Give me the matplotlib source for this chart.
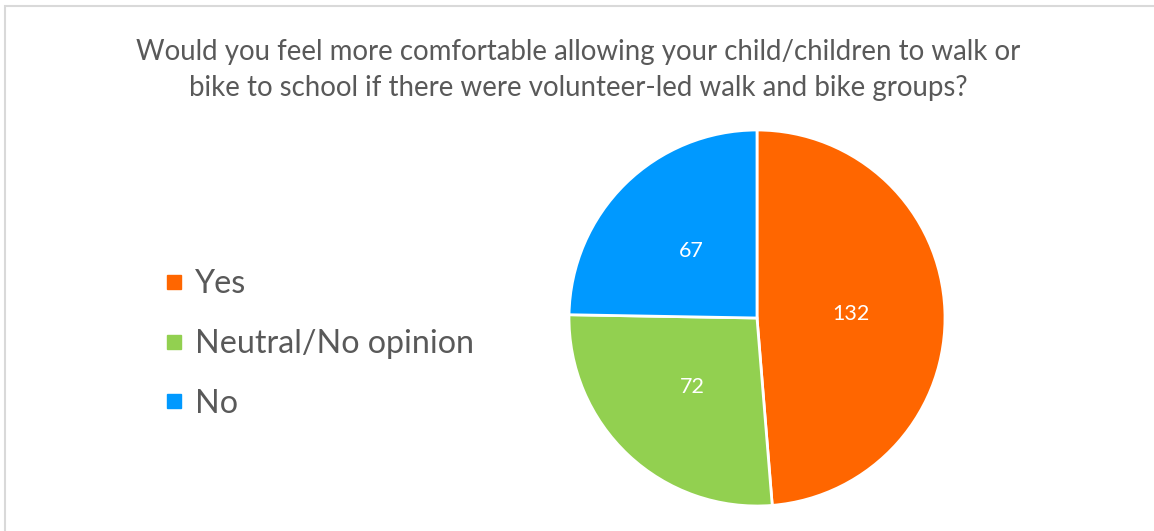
import matplotlib
matplotlib.use("Agg")
import matplotlib.pyplot as plt
from matplotlib.patches import Rectangle
from matplotlib.lines import Line2D

W, H = 1154, 531

# survey answers
labels = ["Yes", "Neutral/No opinion", "No"]
counts = [132, 72, 67]
colors = ["#FF6600", "#92D050", "#0099FF"]
title = ("Would you feel more comfortable allowing your child/children to walk or\n"
         "bike to school if there were volunteer-led walk and bike groups?")

plt.rcParams["font.family"] = ["Lato", "DejaVu Sans"]

fig = plt.figure(figsize=(W / 100, H / 100), dpi=100)

# light grey chart frame (runs off right/bottom edge)
fig.patches.append(Rectangle((5 / W, -0.1), 1.2, (H - 5.5) / H + 0.1,
                             transform=fig.transFigure, fill=False,
                             edgecolor="#D9D9D9", linewidth=1.5))

fig.text(578 / W, 1 - 70 / H, title, ha="center", va="center",
         fontsize=19.9, color="#595959", linespacing=1.45)

# pie: centre (757, 318) px, radius 188 px
cx, cy, r = 757, 318, 188
ax = fig.add_axes([(cx - r) / W, 1 - (cy + r) / H, 2 * r / W, 2 * r / H])
wedges, _, autotexts = ax.pie(
    counts, colors=colors, startangle=90, counterclock=False,
    autopct=lambda p: f"{round(p * sum(counts) / 100)}", pctdistance=0.5,
    wedgeprops=dict(edgecolor="white", linewidth=2),
    textprops=dict(color="white", fontsize=15.5))
ax.set_xlim(-1, 1)
ax.set_ylim(-1, 1)
ax.set_aspect("equal")
ax.set_axis_off()

handles = [Line2D([], [], marker="s", linestyle="none", markersize=10,
                  markerfacecolor=c, markeredgecolor=c) for c in colors]
fig.legend(handles, labels, loc="center left",
           bbox_to_anchor=(147 / W, 1 - 344 / H), frameon=False,
           fontsize=23.2, labelcolor="#595959", handlelength=0.7,
           handletextpad=0.3, labelspacing=0.92, borderpad=0)

fig.savefig("out.png", dpi=100, facecolor="white")
